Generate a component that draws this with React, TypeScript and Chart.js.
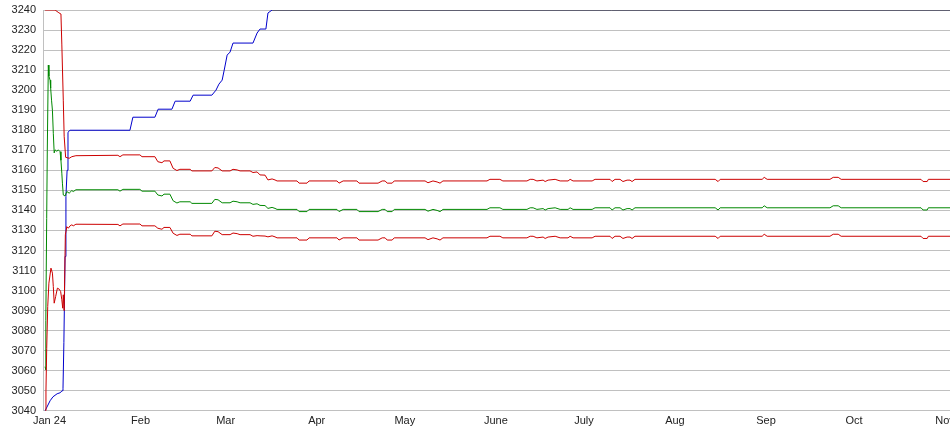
import React, { useEffect, useRef } from "react";
import { Chart, registerables } from "chart.js";

Chart.register(...registerables);

// x values are days since 1 Jan 2024
const monthStartDays = [0, 31, 60, 91, 121, 152, 182, 213, 244, 274, 305];
const monthLabels = ["Jan 24", "Feb", "Mar", "Apr", "May", "June", "July", "Aug", "Sep", "Oct", "Nov"];

const yMin = 3040;
const yMax = 3240;
const yStep = 10;

const blueDays = [-1.5, 0.2, 1.2, 2.6, 3.6, 4.3, 4.6, 4.9, 5.3, 5.6, 6.0, 6.3, 7.0, 27.4, 28.4, 35.9, 37.0, 41.7, 42.8, 47.9, 48.9, 55.3, 56.7, 57.7, 58.8, 59.5, 60.5, 61.5, 62.5, 69.3, 70.7, 71.7, 73.7, 74.4, 75.8];
const blueValues = [3040, 3045, 3047, 3048.5, 3049, 3050, 3051, 3074, 3117, 3147, 3160, 3179, 3180, 3180, 3186.5, 3186.5, 3190.5, 3190.5, 3194.5, 3194.5, 3197.5, 3197.5, 3200, 3203, 3205, 3210, 3217.5, 3219, 3223.5, 3223.5, 3228.5, 3230.5, 3230.5, 3238.5, 3240];

const topDays = [75.8, 307];
const topValues = [3240, 3240];

const upperEarlyDays = [-1.5, 1.9, 3.2, 3.9, 4.2, 4.7, 5.0, 5.5, 6.7, 7.6, 9.0];
const upperEarlyValues = [3240, 3240, 3238.6, 3238, 3223, 3195, 3177, 3166.5, 3166, 3166.8, 3167.3];

const greenEarlyDays = [-1.5, -1.3, -1.2, -0.95, -0.75, -0.4, -0.2, 0.2, 0.4, 0.7, 1.0, 1.3, 1.6, 1.9, 2.5, 3.0, 3.6, 3.9, 4.2, 4.4, 4.7, 5.3, 5.9, 6.7, 7.6, 8.1, 9.0];
const greenEarlyValues = [3062, 3060.4, 3085, 3136, 3170, 3212.5, 3207, 3205, 3201, 3195, 3190, 3178.5, 3168.7, 3170.2, 3169.5, 3170.2, 3169.3, 3165, 3158.6, 3153.6, 3147.7, 3147.2, 3149.4, 3148.6, 3149.9, 3149.4, 3150.3];

const lowerEarlyDays = [-1.5, -1.2, -0.95, -0.6, -0.2, 0.5, 1.0, 1.3, 1.6, 2.1, 2.7, 3.3, 3.8, 4.2, 4.5, 4.7, 5.0, 5.4, 5.9, 6.4, 7.0, 7.6, 8.1, 9.0];
const lowerEarlyValues = [3040, 3050, 3071, 3092, 3103.7, 3111.2, 3108.7, 3102, 3093.7, 3097, 3101.2, 3100.7, 3099.5, 3095.4, 3091.2, 3097.9, 3090, 3127.8, 3131.9, 3131.1, 3132.3, 3132.8, 3132.3, 3133.1];

const bandDays = [23.3, 24.0, 25.0, 30.8, 31.5, 35.9, 36.9, 38.3, 39.0, 41.0, 42.1, 43.4, 44.4, 47.9, 48.5, 55.3, 56.3, 57.4, 58.8, 61.5, 62.5, 63.9, 64.9, 68.3, 69.3, 70.7, 71.7, 73.4, 74.4, 75.8, 76.8, 77.5, 84.3, 85.0, 87.7, 88.4, 97.9, 98.6, 100.0, 104.7, 105.4, 111.9, 113.3, 114.3, 115.0, 116.7, 117.4, 127.9, 128.9, 130.6, 132.0, 133.0, 134.0, 149.0, 150.0, 153.4, 154.4, 162.6, 163.7, 164.7, 166.0, 168.1, 168.8, 169.8, 172.2, 173.9, 176.6, 177.3, 178.3, 184.8, 185.8, 190.9, 191.6, 192.6, 194.3, 195.3, 196.7, 197.7, 198.4, 199.4, 226.7, 227.7, 228.4, 242.7, 243.4, 244.4, 265.8, 266.9, 268.6, 269.6, 296.8, 297.5, 298.9, 299.3, 307];

const upperBand = [3167.5, 3166.8, 3167.7, 3167.7, 3166.8, 3166.8, 3164.3, 3163.8, 3164.7, 3164.7, 3161.0, 3159.9, 3160.5, 3160.5, 3159.7, 3159.7, 3161.4, 3161.2, 3159.7, 3159.7, 3160.5, 3160.2, 3159.7, 3159.7, 3158.9, 3159.2, 3157.7, 3157.6, 3155.2, 3155.7, 3155.2, 3154.7, 3154.7, 3153.6, 3153.6, 3154.7, 3154.7, 3153.6, 3154.7, 3154.7, 3153.6, 3153.6, 3154.7, 3154.7, 3153.6, 3153.6, 3154.7, 3154.7, 3153.8, 3154.7, 3154.2, 3153.6, 3154.7, 3154.7, 3155.5, 3155.5, 3154.7, 3154.7, 3155.5, 3155.5, 3154.7, 3155.1, 3154.4, 3155.1, 3155.5, 3154.7, 3154.7, 3155.5, 3154.7, 3154.7, 3155.5, 3155.5, 3154.4, 3155.5, 3155.5, 3154.4, 3155.1, 3155.1, 3154.4, 3155.5, 3155.5, 3154.4, 3155.5, 3155.5, 3156.5, 3155.5, 3155.5, 3156.5, 3156.5, 3155.5, 3155.5, 3154.4, 3154.4, 3155.5, 3155.5];

const greenBand = [3150.3, 3149.6, 3150.5, 3150.5, 3149.6, 3149.6, 3147.7, 3147.2, 3148.1, 3148.1, 3144.8, 3143.7, 3144.3, 3144.3, 3143.5, 3143.5, 3145.5, 3145.3, 3143.8, 3143.8, 3144.6, 3144.3, 3143.8, 3143.8, 3143.0, 3143.3, 3142.5, 3142.4, 3141.0, 3141.5, 3141.0, 3140.5, 3140.5, 3139.4, 3139.4, 3140.5, 3140.5, 3139.4, 3140.5, 3140.5, 3139.4, 3139.4, 3140.5, 3140.5, 3139.4, 3139.4, 3140.5, 3140.5, 3139.6, 3140.5, 3140.0, 3139.4, 3140.5, 3140.5, 3141.3, 3141.3, 3140.5, 3140.5, 3141.3, 3141.3, 3140.5, 3140.9, 3140.2, 3140.9, 3141.3, 3140.5, 3140.5, 3141.3, 3140.5, 3140.5, 3141.3, 3141.3, 3140.2, 3141.3, 3141.3, 3140.2, 3140.9, 3140.9, 3140.2, 3141.3, 3141.3, 3140.2, 3141.3, 3141.3, 3142.3, 3141.3, 3141.3, 3142.3, 3142.3, 3141.3, 3141.3, 3140.2, 3140.2, 3141.3, 3141.3];

const lowerBand = [3133.0, 3132.3, 3133.2, 3133.2, 3132.3, 3132.3, 3131.1, 3130.6, 3131.5, 3131.5, 3128.6, 3127.5, 3128.1, 3128.1, 3127.3, 3127.3, 3129.6, 3129.4, 3127.9, 3127.9, 3128.7, 3128.4, 3127.9, 3127.9, 3127.1, 3127.4, 3127.3, 3127.2, 3126.8, 3127.3, 3126.8, 3126.3, 3126.3, 3125.2, 3125.2, 3126.3, 3126.3, 3125.2, 3126.3, 3126.3, 3125.2, 3125.2, 3126.3, 3126.3, 3125.2, 3125.2, 3126.3, 3126.3, 3125.4, 3126.3, 3125.8, 3125.2, 3126.3, 3126.3, 3127.1, 3127.1, 3126.3, 3126.3, 3127.1, 3127.1, 3126.3, 3126.7, 3126.0, 3126.7, 3127.1, 3126.3, 3126.3, 3127.1, 3126.3, 3126.3, 3127.1, 3127.1, 3126.0, 3127.1, 3127.1, 3126.0, 3126.7, 3126.7, 3126.0, 3127.1, 3127.1, 3126.0, 3127.1, 3127.1, 3128.1, 3127.1, 3127.1, 3128.1, 3128.1, 3127.1, 3127.1, 3126.0, 3126.0, 3127.1, 3127.1];

const BLUE = "#0000cc";
const RED = "#cc0000";
const GREEN = "#008800";
const DARK = "#000022";
const GRID = "#c0c0c0";
const TEXT = "#222222";
const FONT = { family: "'Liberation Sans', Arial, sans-serif", size: 11 };

function toPoints(xs: number[], ys: number[]) {
  return xs.map((x, i) => ({ x, y: ys[i] }));
}

function lineSet(label: string, pts: { x: number; y: number }[], color: string) {
  return {
    label,
    data: pts,
    borderColor: color,
    backgroundColor: color,
    borderWidth: 1,
    pointRadius: 0,
    pointHoverRadius: 0,
    tension: 0,
    fill: false,
  };
}

export default function App() {
  const ref = useRef<HTMLCanvasElement>(null);

  useEffect(() => {
    if (!ref.current) return;
    const chart = new Chart(ref.current, {
      type: "line",
      data: {
        datasets: [
          lineSet("top", toPoints(topDays, topValues), DARK),
          lineSet("upper", toPoints(upperEarlyDays.concat(bandDays), upperEarlyValues.concat(upperBand)), RED),
          lineSet("lower", toPoints(lowerEarlyDays.concat(bandDays), lowerEarlyValues.concat(lowerBand)), RED),
          lineSet("mean", toPoints(greenEarlyDays.concat(bandDays), greenEarlyValues.concat(greenBand)), GREEN),
          lineSet("best", toPoints(blueDays, blueValues), BLUE),
        ] as any,
      },
      options: {
        animation: false,
        responsive: false,
        maintainAspectRatio: false,
        events: [],
        layout: { padding: { top: 10, right: 0, bottom: 3, left: 0 } },
        plugins: { legend: { display: false }, tooltip: { enabled: false } },
        scales: {
          x: {
            type: "linear",
            min: -2.21,
            max: 323.7,
            grid: { display: false, drawTicks: false },
            border: { display: false },
            afterBuildTicks: (scale: any) => {
              scale.ticks = monthStartDays.map((v) => ({ value: v }));
            },
            ticks: {
              autoSkip: false,
              maxRotation: 0,
              padding: 4,
              color: TEXT,
              font: FONT,
              callback: (value: any) => {
                const i = monthStartDays.indexOf(Number(value));
                return i >= 0 ? monthLabels[i] : "";
              },
            },
          },
          y: {
            type: "linear",
            min: yMin,
            max: yMax,
            afterFit: (scale: any) => {
              scale.width = 43;
              scale.paddingTop = 0;
              scale.paddingBottom = 0;
            },
            grid: { color: GRID, lineWidth: 1, drawTicks: false },
            border: { display: true, color: GRID, width: 1 },
            ticks: {
              stepSize: yStep,
              autoSkip: false,
              maxTicksLimit: 50,
              padding: 7,
              color: TEXT,
              font: FONT,
              callback: (value: any) => String(value),
            },
          },
        },
      } as any,
    });
    return () => chart.destroy();
  }, []);

  return (
    <div
      style={{
        position: "fixed",
        left: 0,
        top: 0,
        width: 950,
        height: 435,
        overflow: "hidden",
        background: "#ffffff",
      }}
    >
      <canvas ref={ref} width={1000} height={435} style={{ display: "block", width: 1000, height: 435 }} />
    </div>
  );
}
